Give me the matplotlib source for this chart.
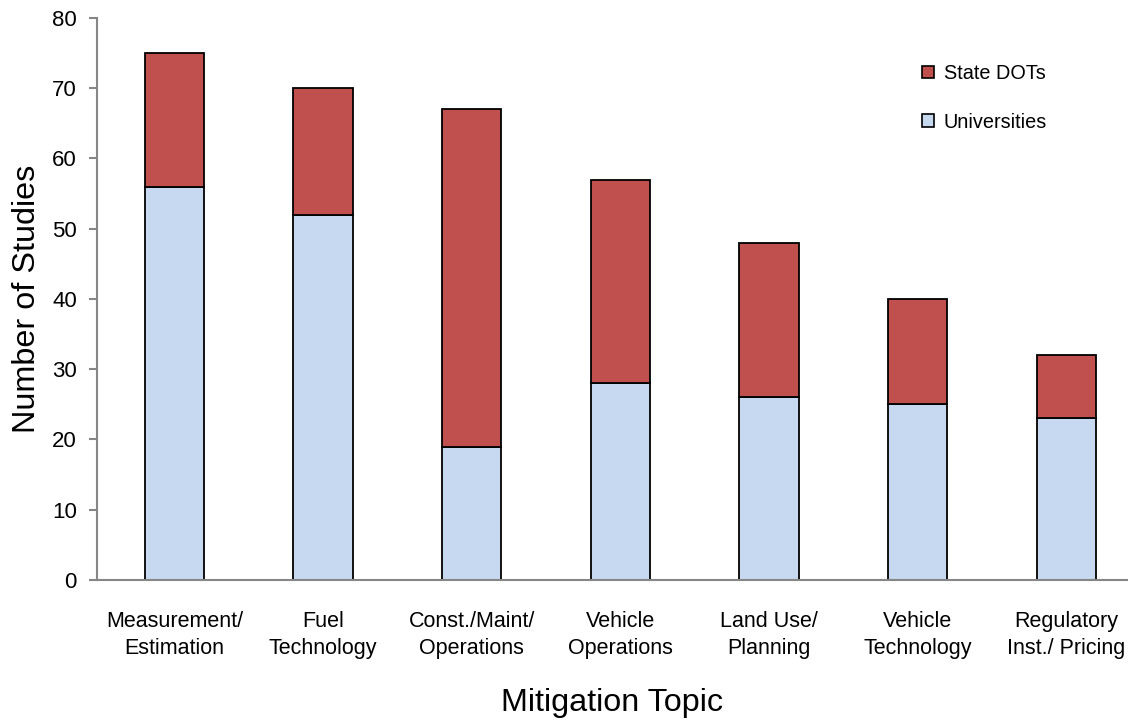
import matplotlib
matplotlib.use("Agg")
import matplotlib.pyplot as plt
from matplotlib.patches import Patch
import numpy as np

# data
topics = ["Measurement/\nEstimation", "Fuel\nTechnology", "Const./Maint/\nOperations",
          "Vehicle\nOperations", "Land Use/\nPlanning", "Vehicle\nTechnology",
          "Regulatory\nInst./ Pricing"]
universities = [56, 52, 19, 28, 26, 25, 23]
state_dots = [19, 18, 48, 29, 22, 15, 9]

plt.rcParams["font.family"] = ["Liberation Sans", "DejaVu Sans"]

uni_color = "#C6D9F0"
dot_color = "#C0504D"
axis_gray = "#868686"

fig = plt.figure(figsize=(11.28, 7.28), dpi=100)
ax = fig.add_axes([0.086, 0.2033, 0.914, 0.772])

x = np.arange(len(topics))
w = 0.40
ax.bar(x, universities, width=w, color=uni_color, edgecolor="black", linewidth=1.3)
ax.bar(x, state_dots, width=w, bottom=universities, color=dot_color,
       edgecolor="black", linewidth=1.3)

ax.set_xlim(-0.52, 6.415)
ax.set_ylim(0, 80)
ax.set_yticks(range(0, 81, 10))
ax.set_xticks(x)
ax.set_xticklabels(topics, fontsize=15.5, linespacing=1.4)

for side in ["top", "right"]:
    ax.spines[side].set_visible(False)
for side in ["left", "bottom"]:
    ax.spines[side].set_color(axis_gray)
    ax.spines[side].set_linewidth(1.5)

ax.tick_params(axis="y", colors=axis_gray, length=5.5, width=1.5, labelsize=16,
               labelcolor="black", pad=9)
ax.tick_params(axis="x", length=0, pad=22, labelcolor="black")

ax.set_ylabel("Number of Studies", fontsize=23.3)
ax.yaxis.set_label_coords(-0.053, 0.5)
ax.set_xlabel("Mitigation Topic", fontsize=23.3)
ax.xaxis.set_label_coords(0.5, -0.193)

handles = [Patch(facecolor=dot_color, edgecolor="black", linewidth=1.2),
           Patch(facecolor=uni_color, edgecolor="black", linewidth=1.2)]
ax.legend(handles, ["State DOTs", "Universities"], loc="upper left",
          bbox_to_anchor=(922 / 1128, 1 - 64 / 728), bbox_transform=fig.transFigure,
          frameon=False, fontsize=14.3, handlelength=0.6, handleheight=0.6,
          handletextpad=0.5, labelspacing=1.5, borderpad=0, borderaxespad=0)

plt.savefig("out.png", dpi=100)
